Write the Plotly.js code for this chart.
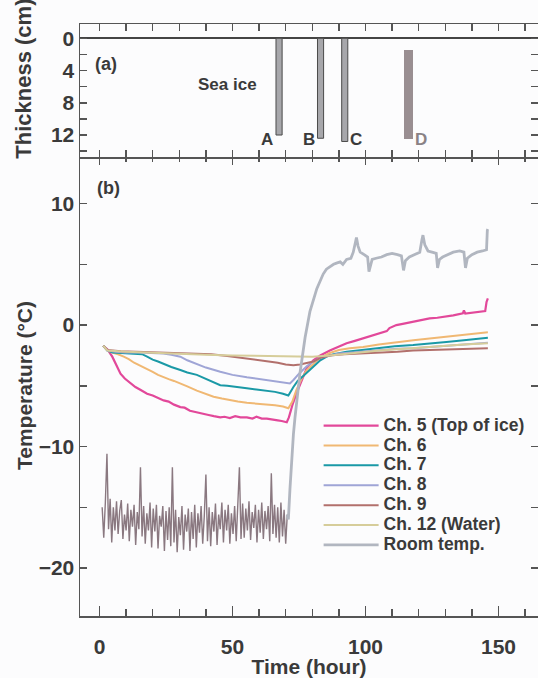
<!DOCTYPE html>
<html><head><meta charset="utf-8">
<script src="https://cdn.plot.ly/plotly-3.0.1.min.js"></script>
<style>html,body{margin:0;padding:0;background:#fcfcfd;}</style>
</head><body>
<div id="chart" style="width:538px;height:678px;"></div>
<script>
// ---- Panel (a): sea ice samples (thickness, cm) ----
const sampleNames = ['A', 'B', 'C', 'D'];
const sampleHour = [67.5, 83.1, 92.2, 116.1];
const sampleTop = [0, 0, 0, 1.4];
const sampleBottom = [12.0, 12.4, 12.8, 12.5];

// ---- Panel (b): temperatures (hour, °C) ----
const ch5Hour = [1.4,3,4.8,6.2,7.9,9.5,11.6,13.5,15.5,17.9,20,22,24.1,26,28,30.4,32,34,36.6,38.5,41,43,45.4,47,49,51,53,55.4,57.5,59,61,62.9,65,67,68.5,70.4,71.2,72.5,74.1,76,78,80.4,83,86.6,90,92.9,96,99.1,102,105.4,108,109,111.6,114,117.9,120,122,124.1,127,130.4,133,136.6,137,137.5,140,143,145,145.5,146];
const ch5Temp = [-1.7,-2.0,-2.6,-3.3,-4.0,-4.4,-4.8,-5.1,-5.35,-5.65,-5.8,-6.0,-6.2,-6.3,-6.55,-6.75,-6.8,-7.05,-7.2,-7.3,-7.4,-7.5,-7.6,-7.55,-7.65,-7.5,-7.6,-7.6,-7.7,-7.55,-7.7,-7.7,-7.8,-7.85,-7.9,-8.0,-7.6,-6.6,-5.6,-4.5,-3.5,-2.9,-2.5,-2.1,-1.8,-1.5,-1.3,-1.1,-0.9,-0.7,-0.5,-0.25,0.0,0.1,0.27,0.35,0.45,0.55,0.6,0.7,0.8,0.97,1.2,0.95,1.0,1.1,1.15,1.9,2.2];

const ch6Hour = [1.4,3,5.4,7,9.1,11,13,15.5,17.9,20,22,24.1,26,28,30.4,33,36.6,39,42.9,46,49.1,52,55.4,59,62.9,66,69,71,72.5,74,76,78,80.4,83,86.6,90,94,99.1,105,111.6,118,124.1,130,136.6,142,146];
const ch6Temp = [-1.7,-2.1,-2.3,-2.4,-2.6,-2.8,-3.1,-3.35,-3.6,-3.85,-4.1,-4.3,-4.45,-4.6,-4.8,-5.05,-5.4,-5.6,-5.9,-6.05,-6.2,-6.3,-6.4,-6.45,-6.5,-6.6,-6.7,-6.85,-6.3,-5.35,-4.4,-3.7,-3.2,-2.7,-2.3,-2.05,-1.9,-1.8,-1.6,-1.4,-1.25,-1.1,-0.95,-0.83,-0.7,-0.6];

const ch7Hour = [1.4,3,5,8,11,14,16,17.9,20,22,24.1,27,30.4,33,36.6,39,42,45.4,48,51,55.4,59,62.9,66,69,71,72.9,74.5,76.6,78.5,80.4,83,85.4,88,92.9,99,105.4,111,117.9,124,130.4,137,142,146];
const ch7Temp = [-1.7,-2.1,-2.25,-2.3,-2.3,-2.35,-2.4,-2.6,-2.85,-3.0,-3.2,-3.45,-3.7,-3.9,-4.1,-4.35,-4.65,-4.95,-5.0,-5.1,-5.2,-5.3,-5.4,-5.5,-5.65,-5.8,-5.1,-4.6,-4.2,-3.8,-3.4,-2.9,-2.6,-2.4,-2.2,-2.05,-1.9,-1.75,-1.65,-1.5,-1.4,-1.25,-1.15,-1.05];

const ch8Hour = [1.4,3,6,10,15,20,24,27,30.4,33,36.6,40,45.4,50,55.4,59,62.9,67,70,71.6,73,75,77.9,80.4,83,86.6,90,95,100,106,112,117.9,124,130,137,142,146];
const ch8Temp = [-1.7,-2.1,-2.2,-2.25,-2.25,-2.3,-2.35,-2.45,-2.6,-2.9,-3.2,-3.5,-3.85,-4.1,-4.3,-4.4,-4.55,-4.65,-4.75,-4.8,-4.5,-4.0,-3.4,-3.0,-2.7,-2.5,-2.35,-2.25,-2.15,-2.05,-1.95,-1.9,-1.8,-1.7,-1.6,-1.5,-1.45];

const ch9Hour = [1.4,3,8,15,25,35,42,48,55.4,59,62.9,67,70,72.9,75.4,78,80.4,83,86.6,92,99.1,106,112,117.9,125,132,139,146];
const ch9Temp = [-1.7,-2.05,-2.15,-2.2,-2.25,-2.3,-2.4,-2.55,-2.75,-2.85,-3.0,-3.1,-3.25,-3.3,-3.25,-3.1,-3.0,-2.7,-2.5,-2.4,-2.35,-2.25,-2.2,-2.1,-2.05,-2.0,-1.95,-1.9];

const ch12Hour = [1.4,3,10,20,30,40,50,60,70,80,86.6,93,99,105.4,112,118,124,130,137,146];
const ch12Temp = [-1.7,-2.1,-2.2,-2.3,-2.4,-2.45,-2.5,-2.55,-2.6,-2.6,-2.5,-2.35,-2.25,-2.1,-2.0,-1.9,-1.8,-1.7,-1.6,-1.5];

// Room temperature while the chamber is cold (noisy, with defrost spikes)
const roomColdHour = [1.0,1.6,2.2,2.8,3.4,4.0,4.6,5.2,5.8,6.4,7.0,7.6,8.2,8.8,9.4,10.0,10.6,11.2,11.8,12.4,13.0,13.6,14.2,14.8,15.4,16.0,16.6,17.2,17.8,18.4,19.0,19.6,20.2,20.8,21.4,22.0,22.6,23.2,23.8,24.4,25.0,25.6,26.2,26.8,27.4,28.0,28.6,29.2,29.8,30.4,31.0,31.6,32.2,32.8,33.4,34.0,34.6,35.2,35.8,36.4,37.0,37.6,38.2,38.8,39.4,40.0,40.6,41.2,41.8,42.4,43.0,43.6,44.2,44.8,45.4,46.0,46.6,47.2,47.8,48.4,49.0,49.6,50.2,50.8,51.4,52.0,52.6,53.2,53.8,54.4,55.0,55.6,56.2,56.8,57.4,58.0,58.6,59.2,59.8,60.4,61.0,61.6,62.2,62.8,63.4,64.0,64.6,65.2,65.8,66.4,67.0,67.6,68.2,68.8,69.4,70.0,70.6];
const roomColdTemp = [-15.0,-17.5,-14.6,-10.6,-16.8,-14.3,-17.9,-15.0,-16.9,-14.5,-17.2,-15.3,-14.4,-17.6,-15.6,-16.9,-14.7,-17.8,-15.2,-16.6,-14.8,-18.1,-15.4,-16.8,-11.7,-17.4,-14.9,-18.0,-15.5,-16.9,-14.6,-18.3,-15.1,-17.0,-14.8,-18.4,-15.7,-16.6,-14.9,-18.6,-15.3,-17.7,-15.0,-18.2,-11.7,-17.9,-15.2,-18.7,-15.8,-17.3,-14.9,-18.5,-15.6,-17.0,-15.1,-18.6,-15.4,-17.6,-14.8,-18.3,-15.5,-17.1,-14.9,-18.0,-15.7,-12.3,-17.8,-15.0,-18.2,-15.4,-17.0,-14.7,-18.1,-15.6,-16.8,-14.6,-17.9,-15.2,-16.9,-14.8,-18.0,-15.5,-17.2,-14.9,-17.8,-15.3,-11.7,-17.6,-14.7,-17.5,-15.1,-16.9,-14.5,-17.7,-15.4,-16.7,-14.8,-17.9,-15.2,-17.1,-14.6,-17.6,-15.3,-16.8,-14.9,-17.8,-12.2,-17.2,-14.8,-17.5,-15.0,-17.9,-14.6,-17.4,-15.2,-18.0,-15.6];

// Room temperature after warming
const roomWarmHour = [70.6,71.0,71.6,72.3,72.9,73.5,74.4,75.4,77.3,79.1,81.7,84.1,85.3,86.6,88,89.1,90.5,91.5,92.9,94.5,95.4,96.2,96.6,97.2,98,99.5,100.8,101.3,101.8,102.5,104,106,108,110,112,113.5,114.3,115,116.5,118.5,120.4,121.2,121.6,122.3,123.5,125,126.6,127.1,127.8,129,131,133,135.4,137,137.6,138.3,140,142,144,145.5,145.8,146];
const roomWarmTemp = [-15.6,-16.0,-13.5,-10.5,-9.0,-7.6,-5.6,-3.9,-1.0,1.1,3.0,4.2,4.6,4.8,5.0,5.1,5.2,5.0,5.4,5.5,6.0,6.8,7.2,6.5,6.0,5.8,5.6,4.4,4.9,5.4,5.5,5.6,5.8,5.9,5.8,5.7,4.5,5.3,5.6,5.8,6.0,7.0,7.4,6.6,6.1,6.0,5.9,4.7,5.4,5.6,5.8,6.0,6.1,6.0,4.7,5.5,5.8,6.0,6.1,6.2,7.8,7.9];

const seriesNames = ['Ch. 5 (Top of ice)', 'Ch. 6', 'Ch. 7', 'Ch. 8', 'Ch. 9', 'Ch. 12 (Water)', 'Room temp.'];
const seriesColors = ['#e2489a', '#f0b873', '#1a99a6', '#9fa5d6', '#b2706c', '#d6cd9a', '#b1b6c0'];
const roomColdColor = '#8a7880';

const xTickVals = [0, 50, 100, 150];
const tempTickVals = [-20, -10, 0, 10];
const thickTickVals = [0, 4, 8, 12];

const FONT = 'Arial, "Liberation Sans", sans-serif';
const INK = '#3a3a3a';
const AX = '#555555';
const lbl = s => '<span style="font-size:17.5px;font-weight:bold">' + s + '</span>';

const tempX = [ch5Hour, ch6Hour, ch7Hour, ch8Hour, ch9Hour, ch12Hour];
const tempY = [ch5Temp, ch6Temp, ch7Temp, ch8Temp, ch9Temp, ch12Temp];

const traces = [];
// sea-ice sample bars (panel a)
traces.push({
  type: 'bar', xaxis: 'x2', yaxis: 'y2',
  x: sampleHour.slice(0, 3),
  y: sampleBottom.slice(0, 3).map((b, i) => b - sampleTop[i]),
  base: sampleTop.slice(0, 3),
  width: 2.3,
  marker: {color: '#a7a7ab', line: {color: '#4a4a4a', width: 1}},
  showlegend: false, hoverinfo: 'skip'
});
traces.push({
  type: 'bar', xaxis: 'x2', yaxis: 'y2',
  x: sampleHour.slice(3),
  y: sampleBottom.slice(3).map((b, i) => b - sampleTop[3 + i]),
  base: sampleTop.slice(3),
  width: 3.3,
  marker: {color: '#998e91', line: {width: 0}},
  showlegend: false, hoverinfo: 'skip'
});

for (let i = 0; i < 6; i++) {
  traces.push({
    type: 'scatter', mode: 'lines', x: tempX[i], y: tempY[i],
    name: lbl(seriesNames[i]),
    line: {color: seriesColors[i], width: i === 0 ? 2.2 : 2},
    xaxis: 'x', yaxis: 'y'
  });
}
traces.push({
  type: 'scatter', mode: 'lines', x: roomColdHour, y: roomColdTemp,
  name: lbl(seriesNames[6]), legendgroup: 'room', showlegend: false,
  line: {color: roomColdColor, width: 1.4}, xaxis: 'x', yaxis: 'y'
});
traces.push({
  type: 'scatter', mode: 'lines', x: roomWarmHour, y: roomWarmTemp,
  name: lbl(seriesNames[6]), legendgroup: 'room',
  line: {color: seriesColors[6], width: 2.8}, xaxis: 'x', yaxis: 'y'
});

const splitY = 461 / 592;
const xRange = [-7.33, 164.85];
const tf = {size: 21, family: FONT, color: INK, weight: 'bold'};

const layout = {
  width: 538, height: 678,
  margin: {l: 80, r: 0, t: 24, b: 62},
  paper_bgcolor: '#fcfcfd', plot_bgcolor: '#fcfcfd',
  font: {family: FONT, color: INK, size: 21},
  showlegend: true,
  legend: {
    x: 0.521, xanchor: 'left', y: 0.347, yanchor: 'top',
    bgcolor: 'rgba(0,0,0,0)', font: {size: 13, family: FONT, color: INK},
    itemwidth: 55, tracegroupgap: 0
  },
  bargap: 0,
  xaxis: {
    domain: [0, 1], anchor: 'y', range: xRange,
    tickvals: xTickVals, ticks: 'inside', ticklen: 10, tickwidth: 1.5, tickcolor: AX,
    minor: {dtick: 10, ticks: 'inside', ticklen: 7, tickwidth: 1.5, tickcolor: AX, showgrid: false},
    showline: true, linecolor: AX, linewidth: 1.5, mirror: 'allticks',
    showgrid: false, zeroline: false, ticklabelstandoff: 11,
    tickfont: tf,
    title: {text: 'Time (hour)', font: tf, standoff: 0}
  },
  yaxis: {
    domain: [0, splitY], anchor: 'x', range: [-23.95, 14.0],
    tickvals: tempTickVals, ticks: 'inside', ticklen: 7, tickwidth: 1.5, tickcolor: AX,
    minor: {dtick: 5, ticks: 'inside', ticklen: 7, tickwidth: 1.5, tickcolor: AX, showgrid: false},
    showline: true, linecolor: AX, linewidth: 1.5, mirror: 'allticks',
    showgrid: false, zeroline: false,
    tickfont: tf,
    ticktext: ['\u221220', '\u221210', '0', '10'],
    title: {text: 'Temperature (°C)', font: tf, standoff: 0}
  },
  xaxis2: {
    domain: [0, 1], anchor: 'y2', range: xRange, matches: 'x',
    showticklabels: false, ticks: 'inside', dtick: 10, tick0: 0, ticklen: 7, tickwidth: 1.5, tickcolor: AX,
    showline: true, linecolor: AX, linewidth: 1.5, mirror: 'allticks',
    showgrid: false, zeroline: false
  },
  yaxis2: {
    domain: [splitY - 0.004, 1], anchor: 'x2', range: [14.77, -1.77],
    tickvals: thickTickVals, ticks: 'inside', ticklen: 7, tickwidth: 1.5, tickcolor: AX,
    minor: {dtick: 2, ticks: 'inside', ticklen: 7, tickwidth: 1.5, tickcolor: AX, showgrid: false},
    showline: true, linecolor: AX, linewidth: 1.5, mirror: 'allticks',
    showgrid: false, zeroline: true, zerolinecolor: '#444', zerolinewidth: 1.8,
    tickfont: tf
  },
  annotations: [
    {xref: 'paper', yref: 'paper', x: -0.124, y: 0.908, text: 'Thickness (cm)', textangle: -90,
     showarrow: false, xanchor: 'center', yanchor: 'middle', font: {size: 22, color: INK, weight: 'bold'}},
    {xref: 'x2', yref: 'y2', x: 2.4, y: 3.2, text: '(a)', showarrow: false, font: {size: 18, color: INK, weight: 'bold'}},
    {xref: 'x2', yref: 'y2', x: 48, y: 5.7, text: 'Sea ice', showarrow: false, font: {size: 17, color: INK, weight: 'bold'}},
    {xref: 'x2', yref: 'y2', x: 63, y: 12.5, text: sampleNames[0], showarrow: false, font: {size: 17, color: INK, weight: 'bold'}},
    {xref: 'x2', yref: 'y2', x: 78.8, y: 12.5, text: sampleNames[1], showarrow: false, font: {size: 17, color: INK, weight: 'bold'}},
    {xref: 'x2', yref: 'y2', x: 96.4, y: 12.5, text: sampleNames[2], showarrow: false, font: {size: 17, color: INK, weight: 'bold'}},
    {xref: 'x2', yref: 'y2', x: 120.9, y: 12.5, text: sampleNames[3], showarrow: false, font: {size: 17, color: '#8a8285', weight: 'bold'}},
    {xref: 'x', yref: 'y', x: 3.2, y: 11.3, text: '(b)', showarrow: false, font: {size: 18, color: INK, weight: 'bold'}}
  ]
};

Plotly.newPlot('chart', traces, layout, {staticPlot: true});
</script>
</body></html>
